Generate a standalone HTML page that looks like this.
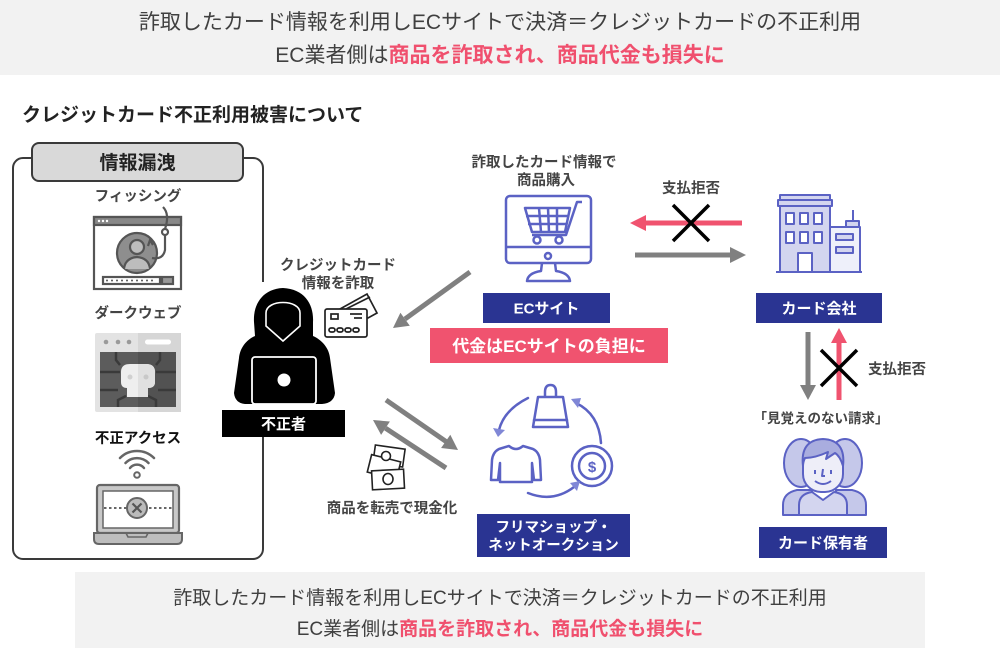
<!DOCTYPE html>
<html><head><meta charset="utf-8"><style>
html,body{margin:0;padding:0;background:#fff;}
body{width:1000px;height:650px;overflow:hidden;}
svg{display:block;font-family:"Liberation Sans","Noto Sans CJK JP",sans-serif;}
</style></head><body>
<svg width="1000" height="650" viewBox="0 0 1000 650" xmlns="http://www.w3.org/2000/svg">
<!-- top banner -->
<rect x="0" y="0" width="1000" height="75" fill="#f2f2f2"/>
<text x="500" y="29" text-anchor="middle" font-size="21" fill="#404040">詐取したカード情報を利用しECサイトで決済＝クレジットカードの不正利用</text>
<text x="500" y="62" text-anchor="middle" font-size="21" fill="#404040">EC業者側は<tspan fill="#f0506e" font-weight="700">商品を詐取され、商品代金も損失に</tspan></text>

<text x="22" y="121" font-size="19" font-weight="700" fill="#222">クレジットカード不正利用被害について</text>

<!-- left panel -->
<rect x="13" y="158" width="250" height="401" rx="10" fill="#fff" stroke="#3a3a3a" stroke-width="2"/>
<rect x="32" y="143" width="211" height="38" rx="7" fill="#d9d9d9" stroke="#3a3a3a" stroke-width="2"/>
<text x="137.5" y="169" text-anchor="middle" font-size="19" font-weight="700" fill="#222">情報漏洩</text>

<text x="138" y="201" text-anchor="middle" font-size="14.5" font-weight="700" fill="#444">フィッシング</text>
<!-- phishing icon -->
<g stroke="#555" stroke-width="2.2" fill="none">
<rect x="94" y="217" width="87" height="72" fill="#fff"/>
<rect x="94" y="217" width="87" height="8" fill="#888"/>
<circle cx="137" cy="253" r="20" fill="#8e8e8e"/>
<circle cx="137" cy="247" r="7" fill="#bdbdbd"/>
<path d="M124 269 Q125 258 137 257 Q149 258 150 269" fill="#bdbdbd"/>
<path d="M163 207 Q170 214 165 229"/>
<circle cx="165" cy="232" r="3" fill="#fff"/>
<path d="M165 235 L165 250 Q163 260 152 258"/>
<path d="M148 246 L150 240 L153 245"/>
<rect x="103" y="277" width="57" height="7" fill="#fff"/>
<rect x="162" y="277" width="11" height="7" fill="#999"/>
</g>
<g fill="#fff"><circle cx="99" cy="221" r="1.2"/><circle cx="103" cy="221" r="1.2"/><circle cx="107" cy="221" r="1.2"/></g>
<g fill="#555"><circle cx="107" cy="280.5" r="1"/><circle cx="112" cy="280.5" r="1"/><circle cx="117" cy="280.5" r="1"/><circle cx="122" cy="280.5" r="1"/><circle cx="127" cy="280.5" r="1"/><circle cx="132" cy="280.5" r="1"/><circle cx="137" cy="280.5" r="1"/><circle cx="142" cy="280.5" r="1"/><circle cx="147" cy="280.5" r="1"/><circle cx="152" cy="280.5" r="1"/></g>

<text x="138" y="318" text-anchor="middle" font-size="14.5" font-weight="700" fill="#444">ダークウェブ</text>
<!-- dark web icon -->
<rect x="95" y="333" width="86" height="79" rx="2" fill="#e3e3e3"/>
<rect x="138" y="333" width="43" height="79" fill="#d6d6d6"/>
<circle cx="106" cy="342" r="2.3" fill="#9a9a9a"/><circle cx="118" cy="342" r="2.3" fill="#9a9a9a"/><circle cx="129" cy="342" r="2.3" fill="#9a9a9a"/>
<rect x="145" y="339.5" width="26" height="5" rx="2.5" fill="#fff"/>
<rect x="100" y="352" width="76" height="55" fill="#5c5c5c"/>
<rect x="138" y="352" width="38" height="55" fill="#525252"/>
<g stroke="#3a3a3a" stroke-width="2.5" fill="none">
<path d="M100 372 L120 372"/><path d="M156 372 L176 372"/>
<path d="M120 365 L116 360 L116 352"/><path d="M156 365 L160 360 L160 352"/>
<path d="M126 396 L118 400 L118 407"/><path d="M148 396 L156 400 L156 407"/>
<path d="M100 390 L118 390"/><path d="M158 390 L176 390"/>
</g>
<path d="M121 372 Q121 364 130 364 L146 364 Q155 364 155 372 L155 382 Q155 388 148 388 L148 397 L127 397 L127 388 Q121 388 121 382 Z" fill="#eeeeee"/>
<path d="M138 364 L146 364 Q155 364 155 372 L155 382 Q155 388 148 388 L148 397 L138 397 Z" fill="#e0e0e0"/>
<circle cx="130" cy="377" r="2.5" fill="#d0d0d0"/><circle cx="146" cy="377" r="2.5" fill="#c8c8c8"/>

<text x="138" y="443" text-anchor="middle" font-size="14.5" font-weight="700" fill="#111">不正アクセス</text>
<!-- wifi -->
<g stroke="#666" stroke-width="2.5" fill="none" stroke-linecap="round">
<path d="M125.5 463 A16 16 0 0 1 148.5 463"/>
<path d="M120 458 A24 24 0 0 1 154 458"/>
<path d="M130 468 A9 9 0 0 1 144 468"/>
</g>
<circle cx="137" cy="475" r="2.8" fill="#fff" stroke="#666" stroke-width="2"/>
<!-- laptop -->
<rect x="97" y="485" width="82" height="48" rx="3" fill="#c8c8c8" stroke="#666" stroke-width="2.2"/>
<rect x="103" y="491" width="70" height="37" fill="#fff" stroke="#666" stroke-width="1.5"/>
<line x1="104" y1="508" x2="172" y2="508" stroke="#666" stroke-width="2" stroke-dasharray="2.5 2.5"/>
<circle cx="137" cy="508" r="10" fill="#bbb" stroke="#666" stroke-width="2"/>
<path d="M132.5 503.5 L141.5 512.5 M141.5 503.5 L132.5 512.5" stroke="#555" stroke-width="2.2"/>
<path d="M94 533 L182 533 L182 539 Q182 544 177 544 L99 544 Q94 544 94 539 Z" fill="#bdbdbd" stroke="#666" stroke-width="2"/>
<path d="M126 533 L128 537 L146 537 L148 533" fill="none" stroke="#666" stroke-width="1.6"/>

<!-- hacker -->
<rect x="229" y="282" width="114" height="128" fill="#fff"/>
<path d="M283 288 C262 289 253 305 254 322 L255 336 C246 340 240 348 239 358 L234 393 Q235 403 245 404 L322 404 Q334 403 335 393 L330 358 C329 348 322 340 313 336 L313 322 C314 305 305 289 283 288 Z" fill="#000"/>
<path d="M266 313 C266 299 300 299 300 313 L300 326 L283 341 L266 326 Z" fill="#000" stroke="#fff" stroke-width="1.6"/>
<rect x="252" y="357" width="64" height="47" rx="3" fill="#000" stroke="#fff" stroke-width="1.8"/>
<circle cx="284" cy="380" r="6.5" fill="#fff"/>
<rect x="222" y="410" width="123" height="27" fill="#000"/>
<text x="283.5" y="429" text-anchor="middle" font-size="15" font-weight="700" fill="#fff">不正者</text>

<text x="338" y="270" text-anchor="middle" font-size="14.5" font-weight="700" fill="#444">クレジットカード</text>
<text x="338" y="288" text-anchor="middle" font-size="14.5" font-weight="700" fill="#444">情報を詐取</text>
<!-- card icon -->
<g stroke="#222" stroke-width="1.7" fill="#fff">
<polygon points="340,309 367,294 377,313 368,318"/>
<line x1="346" y1="309" x2="370" y2="297" />
<rect x="325" y="309" width="42" height="28" rx="2"/>
<rect x="331" y="314" width="7" height="5"/>
<line x1="350" y1="314" x2="362" y2="314"/>
<line x1="354" y1="318" x2="362" y2="318"/>
<rect x="329" y="328" width="6" height="4" rx="2"/>
<rect x="337" y="328" width="6" height="4" rx="2"/>
<rect x="345" y="328" width="6" height="4" rx="2"/>
<rect x="353" y="328" width="6" height="4" rx="2"/>
</g>

<!-- arrows hacker side -->
<g fill="#808080">
<line x1="470" y1="272" x2="405" y2="319" stroke="#808080" stroke-width="5"/>
<polygon points="393,328 409.8,325.7 400.4,312.7"/>
<line x1="386" y1="400" x2="446" y2="441.5" stroke="#808080" stroke-width="5"/>
<polygon points="458,450 441.1,448 450.3,434.8"/>
<line x1="446" y1="468" x2="385.5" y2="428.2" stroke="#808080" stroke-width="5"/>
<polygon points="373,420 389.9,421.5 381.1,434.9"/>
</g>

<!-- money icon -->
<g stroke="#222" stroke-width="1.6" fill="#fff">
<rect x="374" y="447" width="30" height="18" transform="rotate(8 389 456)"/>
<rect x="369" y="458" width="30" height="18" transform="rotate(14 384 467)"/>
<rect x="372" y="470" width="32" height="19" transform="rotate(-3 388 479)"/>
<ellipse cx="388" cy="479" rx="5" ry="5.5"/>
<circle cx="386" cy="456" r="4.5"/>
</g>
<text x="392" y="513" text-anchor="middle" font-size="14.5" font-weight="700" fill="#444">商品を転売で現金化</text>

<!-- EC site -->
<text x="544" y="167" text-anchor="middle" font-size="14.5" font-weight="700" fill="#444">詐取したカード情報で</text>
<text x="546" y="185" text-anchor="middle" font-size="14.5" font-weight="700" fill="#444">商品購入</text>
<g stroke="#5b62c4" stroke-width="2.5" fill="none" stroke-linejoin="round">
<rect x="506" y="196" width="85" height="67" rx="4" fill="#fff"/>
<line x1="506" y1="247" x2="591" y2="247"/>
<circle cx="548" cy="256" r="3"/>
<path d="M542 263 L541 271 Q528 273 527 281 L570 281 Q569 273 556 271 L555 263"/>
<polygon points="525,208 570,208 565,232 532,232"/>
<line x1="539" y1="208" x2="541" y2="232"/><line x1="548" y1="208" x2="549" y2="232"/><line x1="557" y1="208" x2="557" y2="232"/>
<line x1="526" y1="216" x2="568" y2="216"/><line x1="528" y1="224" x2="567" y2="224"/>
<path d="M532 235 L566 235 L577 202 L582 202"/>
<circle cx="537" cy="240" r="3.5" fill="#fff"/><circle cx="559" cy="240" r="3.5" fill="#fff"/>
</g>
<rect x="483" y="293" width="127" height="30" fill="#2a3492"/>
<text x="546.5" y="313.5" text-anchor="middle" font-size="15" font-weight="700" fill="#fff">ECサイト</text>
<rect x="430" y="328" width="238" height="35" fill="#f0536f"/>
<text x="549" y="352" text-anchor="middle" font-size="17" font-weight="700" fill="#fff">代金はECサイトの負担に</text>

<!-- EC <-> card company arrows -->
<text x="691" y="193" text-anchor="middle" font-size="14.5" font-weight="700" fill="#444">支払拒否</text>
<line x1="742" y1="223" x2="644" y2="223" stroke="#f0536f" stroke-width="5"/>
<polygon points="630,223 646,215 646,231" fill="#f0536f"/>
<path d="M673 205 L709 241 M709 205 L673 241" stroke="#000" stroke-width="3.5"/>
<line x1="635" y1="255" x2="732" y2="255" stroke="#808080" stroke-width="5"/>
<polygon points="746,255 730,247 730,263" fill="#808080"/>

<!-- building -->
<g stroke="#5b62c4" stroke-width="2" stroke-linejoin="round">
<line x1="853" y1="210" x2="853" y2="221" fill="none"/>
<rect x="830" y="227" width="30" height="45" fill="#eef0fa"/>
<rect x="846" y="221" width="13" height="6" fill="#d3d5ef"/>
<rect x="780" y="205" width="50" height="67" fill="#d3d5ef"/>
<rect x="780" y="195" width="50" height="5" fill="#d3d5ef"/>
<rect x="778" y="200" width="54" height="6" fill="#d3d5ef"/>
<g fill="#fff">
<rect x="786" y="213" width="8" height="11"/><rect x="800" y="213" width="8" height="11"/><rect x="814" y="213" width="8" height="11"/>
<rect x="786" y="232" width="8" height="11"/><rect x="800" y="232" width="8" height="11"/><rect x="814" y="232" width="8" height="11"/>
<rect x="798" y="253" width="14" height="19"/>
</g>
<rect x="836" y="234" width="17" height="6" fill="#d3d5ef"/>
<rect x="836" y="247" width="17" height="6" fill="#d3d5ef"/>
<line x1="776" y1="272" x2="862" y2="272"/>
</g>
<rect x="756" y="293" width="126" height="30" fill="#2a3492"/>
<text x="819" y="313.5" text-anchor="middle" font-size="15" font-weight="700" fill="#fff">カード会社</text>

<!-- vertical arrows -->
<line x1="808" y1="332" x2="808" y2="387" stroke="#808080" stroke-width="5"/>
<polygon points="808,400 800,385 816,385" fill="#808080"/>
<line x1="839" y1="400" x2="839" y2="341" stroke="#f0536f" stroke-width="5"/>
<polygon points="839,328 831,343 847,343" fill="#f0536f"/>
<path d="M821 350 L857 386 M857 350 L821 386" stroke="#000" stroke-width="3.5"/>
<text x="897" y="374" text-anchor="middle" font-size="14.5" font-weight="700" fill="#444">支払拒否</text>

<!-- card holder -->
<text x="821" y="423" text-anchor="middle" font-size="13.5" font-weight="700" fill="#444">「見覚えのない請求」</text>
<g stroke="#5b62c4" stroke-width="2" stroke-linejoin="round">
<path d="M783 515 L783 505 Q783 493 797 490 L812 490 L812 515 Z" fill="#c5c8ea"/>
<path d="M866 515 L866 505 Q866 493 852 490 L836 490 L836 515 Z" fill="#c5c8ea"/>
<ellipse cx="801" cy="463" rx="17" ry="24" fill="#c5c8ea"/>
<ellipse cx="845" cy="463" rx="17" ry="24" fill="#c5c8ea"/>
<path d="M799 515 L799 505 Q799 494 812 492 L823 500 L834 492 Q847 494 847 505 L847 515 Z" fill="#d3d5ef"/>
<rect x="803" y="446" width="40" height="46" rx="18" fill="#eeeef8"/>
<path d="M803 466 Q800 440 823 439 Q846 440 843 466 Q840 456 835 453 L826 459 L828 452 Q815 458 805 458 Q803 462 803 466 Z" fill="#a9addf"/>
<path d="M815 470 L815 474 M831 470 L831 474" fill="none"/>
<path d="M823 469 L822 476 L825 476" fill="none"/>
<path d="M815 481 Q823 487 831 481" fill="none"/>
</g>
<rect x="759" y="527" width="128" height="31" fill="#2a3492"/>
<text x="823" y="548" text-anchor="middle" font-size="15" font-weight="700" fill="#fff">カード保有者</text>

<!-- flea market icon -->
<g stroke="#5b62c4" stroke-width="2.5" fill="none" stroke-linejoin="round" stroke-linecap="round">
<path d="M528 398 Q504 410 499 430"/>
<path d="M601 443 Q599 414 576 403"/>
<path d="M528 493 Q553 503 574 487"/>
<path d="M545 397 L545 392 Q545 385 550.5 385 Q556 385 556 392 L556 397"/>
<polygon points="538,397 563,397 568,427 533,427" fill="#fff"/>
<line x1="534" y1="420" x2="567" y2="420"/>
<path d="M509 446 Q516 452 523 446 L533 449 Q539 452 540 460 L541 480 L534 480 L532 463 L532 482 L500 482 L500 463 L498 480 L491 480 L492 460 Q493 452 499 449 Z" fill="#fff"/>
<circle cx="592" cy="466" r="20" fill="#fff"/>
<circle cx="592" cy="466" r="13"/>
</g>
<g fill="#8087d6">
<polygon points="493,428 505,430 498,437"/>
<polygon points="571,399 581,398 578,408"/>
<polygon points="577,491 570,483 580,481"/>
</g>
<text x="592" y="472" text-anchor="middle" font-size="15" font-weight="700" fill="#5b62c4">$</text>
<rect x="477" y="514" width="153" height="43" fill="#2a3492"/>
<text x="553.5" y="532" text-anchor="middle" font-size="14.5" font-weight="700" fill="#fff">フリマショップ・</text>
<text x="553.5" y="550" text-anchor="middle" font-size="14.5" font-weight="700" fill="#fff">ネットオークション</text>

<!-- bottom banner -->
<rect x="75" y="572" width="850" height="76" fill="#f2f2f2"/>
<text x="500" y="604" text-anchor="middle" font-size="19" fill="#404040">詐取したカード情報を利用しECサイトで決済＝クレジットカードの不正利用</text>
<text x="500" y="635" text-anchor="middle" font-size="19" fill="#404040">EC業者側は<tspan fill="#f0506e" font-weight="700">商品を詐取され、商品代金も損失に</tspan></text>
</svg>
</body></html>
